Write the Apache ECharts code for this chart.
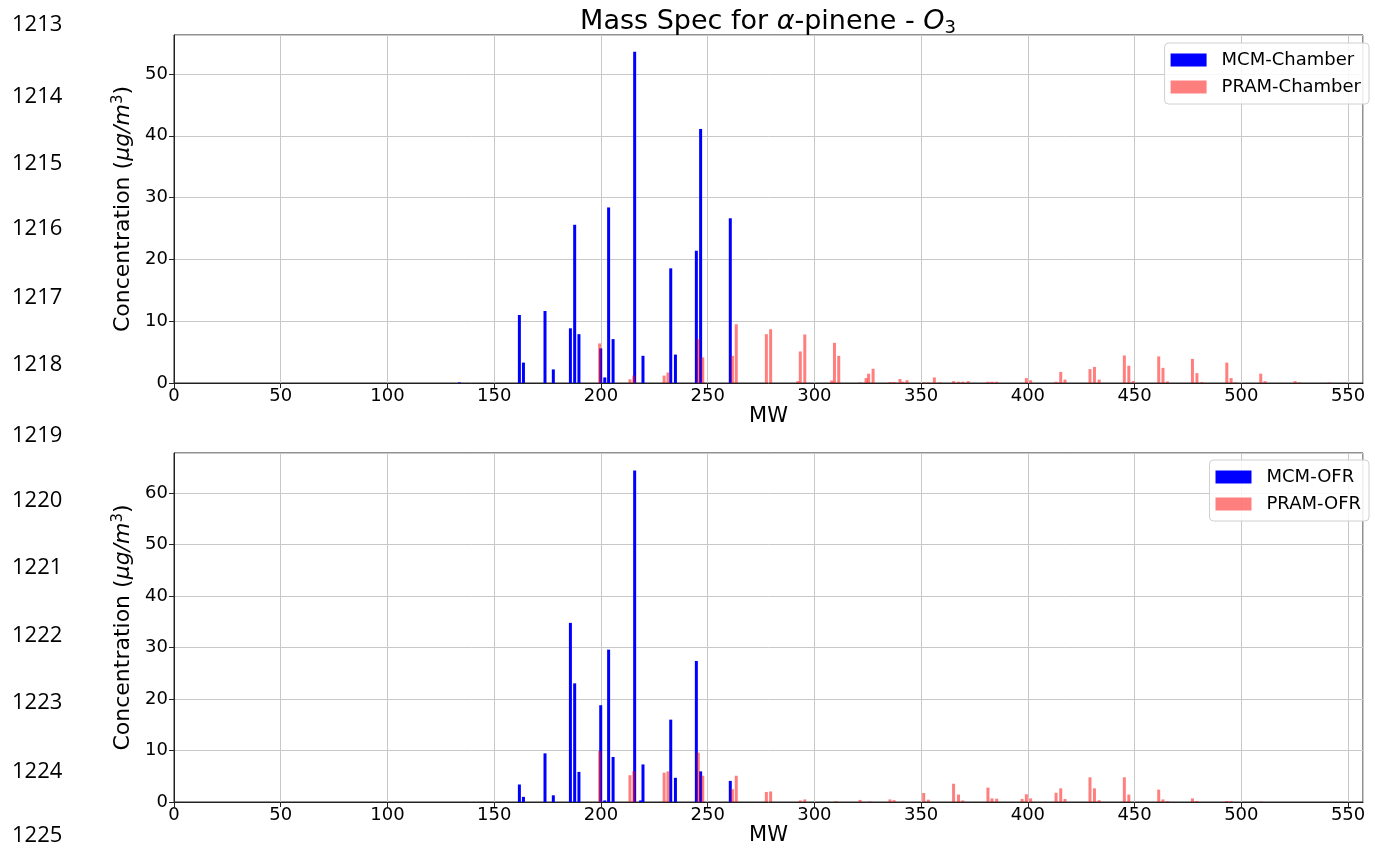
<!DOCTYPE html>
<html>
<head>
<meta charset="utf-8">
<script src="https://cdn.jsdelivr.net/npm/echarts@6/dist/echarts.min.js"></script>
<style>
html,body{margin:0;padding:0;background:#fff;}
#c{width:1375px;height:855px;}
</style>
</head>
<body>
<div id="c"></div>
<script>
// ---------- data ----------
const mcmMW = [133.7, 161.8, 163.7, 173.8, 177.7, 185.7, 187.7, 189.7, 199.9, 201.8, 203.6, 205.7, 215.8, 218.6, 219.7, 232.7, 234.9, 244.7, 246.7, 260.6];
const mcmChamber = [0.1, 11.0, 3.3, 11.65, 2.2, 8.85, 25.6, 7.9, 5.6, 0.9, 28.4, 7.1, 53.6, 0, 4.4, 18.55, 4.6, 21.4, 41.1, 26.65];
const mcmOFR = [0, 3.4, 1.0, 9.45, 1.3, 34.8, 23.05, 5.85, 18.8, 0.3, 29.6, 8.75, 64.4, 0.3, 7.3, 16.0, 4.7, 27.4, 5.95, 4.1];

const pramMW = [199.4, 213.6, 215.4, 229.6, 231.4, 245.6, 247.7, 261.6, 263.4, 277.5, 279.5,
  292.2, 293.4, 295.5, 308.1, 309.4, 310.2, 311.4, 321.4, 324.2, 325.4, 326.0, 327.5,
  335.4, 337.3, 340.1, 341.4, 343.4, 351.2, 353.4, 356.2, 358.9, 365.2, 367.5, 369.5, 372.1,
  381.3, 383.2, 385.4, 397.3, 399.3, 401.3, 413.2, 415.4, 417.4, 429.1, 431.2, 433.4,
  445.2, 447.3, 449.4, 461.3, 463.3, 465.4, 477.1, 479.2, 481.5, 493.2, 495.2, 497.1,
  509.1, 511.1, 525.2, 527.2, 541.1];
const pramChamber = [6.4, 0.6, 1.2, 1.2, 1.7, 7.1, 4.15, 4.4, 9.5, 7.9, 8.7,
  0.3, 5.1, 7.85, 0.4, 6.5, 0, 4.4, 0.1, 0.8, 1.5, 0, 2.3,
  0.15, 0.15, 0.65, 0.2, 0.45, 0.1, 0.1, 0.9, 0.1, 0.3, 0.2, 0.2, 0.3,
  0.2, 0.2, 0.2, 0, 0.8, 0.45, 0.2, 1.8, 0.55, 2.25, 2.6, 0.55,
  4.45, 2.8, 0.3, 4.3, 2.45, 0.25, 3.9, 1.6, 0.15, 3.3, 0.8, 0.1,
  1.5, 0.3, 0.3, 0.1, 0.1];
const pramOFR = [9.9, 5.2, 6.0, 5.7, 5.95, 9.6, 5.1, 2.5, 5.1, 1.95, 2.05,
  0, 0.3, 0.5, 0, 0, 0.15, 0, 0.4, 0, 0, 0.1, 0,
  0.5, 0.35, 0, 0, 0, 1.75, 0.45, 0, 0, 3.55, 1.45, 0.3, 0,
  2.8, 0.7, 0.65, 0.6, 1.5, 0.7, 1.8, 2.65, 0.6, 4.8, 2.65, 0.35,
  4.8, 1.45, 0, 2.4, 0.5, 0.15, 0.7, 0.2, 0, 0.2, 0.15, 0,
  0.1, 0, 0, 0, 0];

const xTicks = [0, 50, 100, 150, 200, 250, 300, 350, 400, 450, 500, 550];
const lineNumbers = ['1213','1214','1215','1216','1217','1218','1219','1220','1221','1222','1223','1224','1225'];
const seriesNames = ['MCM-Chamber', 'PRAM-Chamber', 'MCM-OFR', 'PRAM-OFR'];

// ---------- layout ----------
const lineNumberY = [25, 97, 164, 229, 298, 365, 436, 501, 568, 636, 703, 772, 836];

// ---------- chart ----------
const pairs = (xs, ys) => xs.map((x, i) => [x, ys[i]]);
const BLUE = '#0000ff';
const RED = 'rgba(255,0,0,0.5)';
const FONT = 'DejaVu Sans';

function xAxis(gi) {
  return {
    gridIndex: gi, type: 'value', min: 0, max: 557, interval: 50,
    name: 'MW', nameLocation: 'middle', nameGap: 21,
    nameTextStyle: { fontFamily: FONT, fontSize: 21, color: '#000' },
    axisLine: { show: true, lineStyle: { color: '#222', width: 1 } },
    axisTick: { show: true, length: 5, lineStyle: { color: '#222' } },
    axisLabel: { fontFamily: FONT, fontSize: 18, color: '#000', margin: 4, showMaxLabel: false,
      formatter: v => (xTicks.indexOf(v) >= 0 ? String(v) : '') },
    splitLine: { show: true, lineStyle: { color: '#c8c8c8', width: 1 } }
  };
}
function yAxis(gi, max) {
  return {
    gridIndex: gi, type: 'value', min: 0, max: max, interval: 10,
    name: 'Concentration ({i|μg/m}{s|3})', nameLocation: 'middle', nameGap: 36,
    nameTextStyle: { fontFamily: FONT, fontSize: 22, color: '#000',
      rich: {
        i: { fontFamily: FONT, fontSize: 22, fontStyle: 'italic', color: '#000' },
        s: { fontFamily: FONT, fontSize: 15, color: '#000', verticalAlign: 'bottom', padding: [0, 0, 10, 0] }
      } },
    axisLine: { show: true, lineStyle: { color: '#222', width: 1 } },
    axisTick: { show: true, length: 5, lineStyle: { color: '#222' } },
    axisLabel: { fontFamily: FONT, fontSize: 18, color: '#000', margin: 6, showMaxLabel: false,
      formatter: v => (v % 10 === 0 ? String(v) : '') },
    splitLine: { show: true, lineStyle: { color: '#c8c8c8', width: 1 } }
  };
}
function bar(name, gi, data, color) {
  return {
    name: name, type: 'bar', xAxisIndex: gi, yAxisIndex: gi,
    data: data, barWidth: 3, barGap: '-100%', itemStyle: { color: color },
    animation: false, silent: true
  };
}
function legend(top, names) {
  return {
    orient: 'vertical', right: 6, top: top, data: names,
    padding: [8, 8, 8, 6], itemGap: 9, itemWidth: 36, itemHeight: 13,
    icon: 'rect', borderColor: '#d0d0d0', borderWidth: 1, borderRadius: 4,
    backgroundColor: 'rgba(255,255,255,0.85)',
    textStyle: { fontFamily: FONT, fontSize: 18, color: '#000', padding: [0, 0, 0, 10] }
  };
}

const graphics = lineNumbers.map((t, i) => ({
  type: 'text', x: 12, y: lineNumberY[i],
  style: { text: t, fontFamily: 'Open Sans', fontSize: 22, fill: '#000', verticalAlign: 'middle' }
}));
graphics.push({
  type: 'text', x: 768, y: 22,
  style: {
    text: 'Mass Spec for {i|α}-pinene - {i|O}{s|3}',
    fontFamily: FONT, fontSize: 27, fill: '#000', align: 'center', verticalAlign: 'middle',
    rich: {
      i: { fontFamily: FONT, fontSize: 27, fontStyle: 'italic', fill: '#000' },
      s: { fontFamily: FONT, fontSize: 18, fill: '#000', verticalAlign: 'top', padding: [13, 0, 0, 0] }
    }
  }
});

const chart = echarts.init(document.getElementById('c'), null, { renderer: 'canvas' });
chart.setOption({
  backgroundColor: '#fff',
  animation: false,
  grid: [
    { left: 174, top: 35, width: 1189, height: 348, show: true, borderColor: '#222', borderWidth: 1, backgroundColor: 'transparent' },
    { left: 174, top: 453, width: 1189, height: 349, show: true, borderColor: '#222', borderWidth: 1, backgroundColor: 'transparent' }
  ],
  xAxis: [xAxis(0), xAxis(1)],
  yAxis: [yAxis(0, 56.3), yAxis(1, 67.8)],
  legend: [legend(43, [seriesNames[0], seriesNames[1]]), legend(460, [seriesNames[2], seriesNames[3]])],
  series: [
    bar(seriesNames[0], 0, pairs(mcmMW, mcmChamber), BLUE),
    bar(seriesNames[1], 0, pairs(pramMW, pramChamber), RED),
    bar(seriesNames[2], 1, pairs(mcmMW, mcmOFR), BLUE),
    bar(seriesNames[3], 1, pairs(pramMW, pramOFR), RED)
  ],
  graphic: graphics
});
</script>
</body>
</html>
